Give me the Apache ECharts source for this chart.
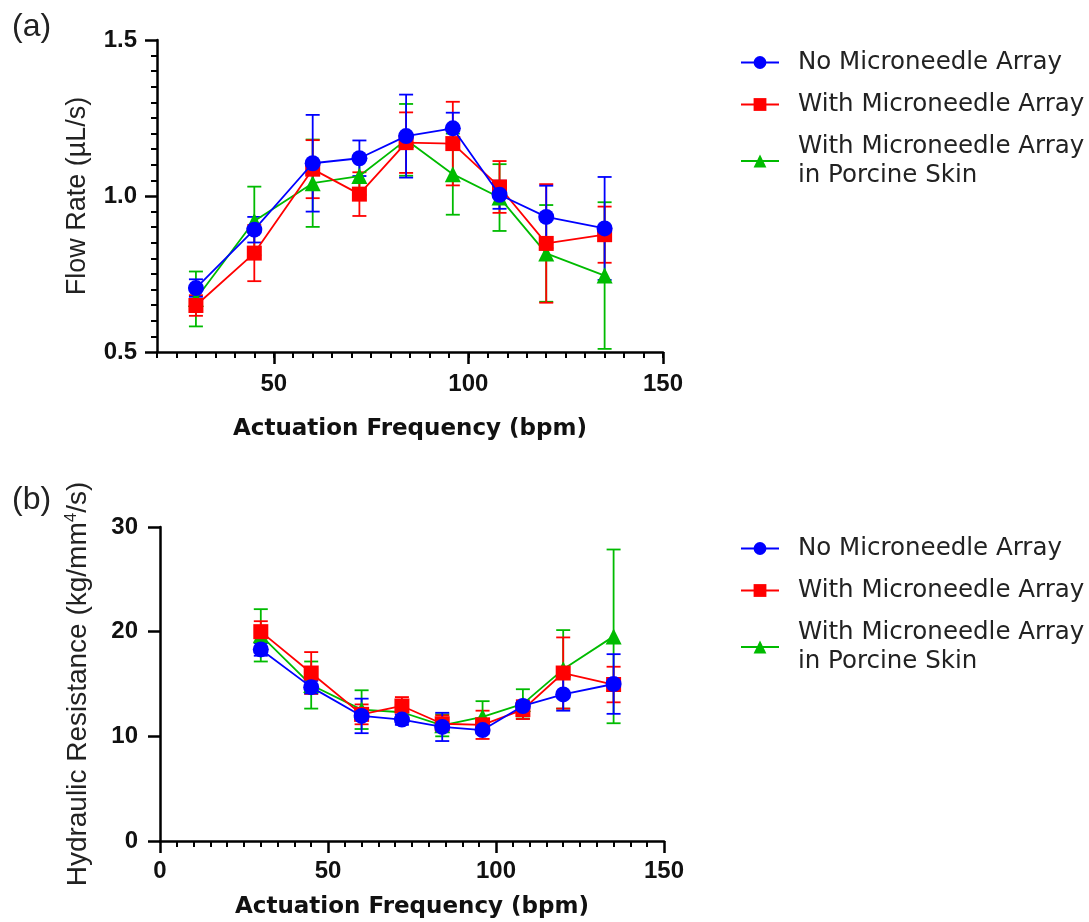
<!DOCTYPE html>
<html>
<head>
<meta charset="utf-8">
<script src="https://cdn.jsdelivr.net/npm/echarts@6/dist/echarts.min.js"></script>
<style>
html, body { margin: 0; background: #fff; }
#chart { width: 1089px; height: 922px; }
</style>
</head>
<body>
<div id="chart"></div>
<script>
// actuation frequencies (bpm)
var freqs = [30, 45, 60, 72, 84, 96, 108, 120, 135];
var names = ['No Microneedle Array', 'With Microneedle Array', 'With Microneedle Array\nin Porcine Skin'];
var colors = ['#0000FF', '#FF0000', '#00BB00'];
var symbols = ['circle', 'rect', 'triangle'];

// (a) flow rate, uL/s  (mean / sd)
var flowNone = [0.705, 0.892, 1.105, 1.121, 1.192, 1.217, 1.004, 0.933, 0.896];
var flowNoneSd = [0.028, 0.041, 0.155, 0.057, 0.133, 0.05, 0.045, 0.1, 0.165];
var flowMN = [0.649, 0.817, 1.086, 1.006, 1.171, 1.168, 1.029, 0.848, 0.876];
var flowMNSd = [0.033, 0.09, 0.093, 0.07, 0.097, 0.134, 0.083, 0.19, 0.09];
var flowSkin = [0.67, 0.92, 1.041, 1.064, 1.18, 1.07, 0.995, 0.816, 0.745];
var flowSkinSd = [0.088, 0.11, 0.14, 0.06, 0.115, 0.13, 0.107, 0.155, 0.235];

// (b) hydraulic resistance, kg/mm4/s
var resNone = [18.3, 14.7, 11.95, 11.6, 10.9, 10.6, 12.9, 14.0, 15.0];
var resNoneSd = [0.6, 0.6, 1.65, 0.5, 1.35, 0.35, 0.4, 1.55, 2.85];
var resMN = [20.0, 16.05, 12.1, 12.9, 11.2, 11.1, 12.55, 16.05, 14.95];
var resMNSd = [1.0, 2.0, 0.95, 0.85, 0.8, 1.35, 0.9, 3.4, 1.7];
var resSkin = [19.65, 14.9, 12.55, 12.3, 11.05, 11.86, 13.1, 16.4, 19.55];
var resSkinSd = [2.5, 2.25, 1.85, 0.7, 1.05, 1.5, 1.4, 3.75, 8.3];

var xMajorTop = [50, 100, 150];

var black = '#000';
var tickFont = { fontFamily: 'Arial, "Liberation Sans", sans-serif', fontWeight: 'bold', fontSize: 24, color: '#111' };
var xNameFont = { fontFamily: 'DejaVu Sans', fontWeight: 'bold', fontSize: 23, color: '#111' };

function pairs(ys) {
  return freqs.map(function (f, i) { return [f, ys[i]]; });
}

function lineSeries(k, ys, grid) {
  return {
    type: 'line',
    name: names[k],
    xAxisIndex: grid === 0 ? 0 : 2,
    yAxisIndex: grid,
    data: pairs(ys),
    symbol: symbols[k],
    symbolSize: k === 1 ? 15 : 16,
    lineStyle: { color: colors[k], width: 1.8 },
    itemStyle: { color: colors[k] },
    z: 10 - k,
    animation: false
  };
}

function errSeries(k, ys, sds, grid) {
  return {
    type: 'custom',
    name: names[k] + ' sd',
    xAxisIndex: grid === 0 ? 0 : 2,
    yAxisIndex: grid,
    data: freqs.map(function (f, i) { return [f, ys[i] - sds[i], ys[i] + sds[i]]; }),
    encode: { x: 0, y: [1, 2] },
    z: 5 - k,
    silent: true,
    animation: false,
    renderItem: function (params, api) {
      var lo = api.coord([api.value(0), api.value(1)]);
      var hi = api.coord([api.value(0), api.value(2)]);
      var w = 7;
      var st = { stroke: colors[k], lineWidth: 1.8, fill: null };
      return {
        type: 'group',
        children: [
          { type: 'line', shape: { x1: lo[0], y1: lo[1], x2: hi[0], y2: hi[1] }, style: st },
          { type: 'line', shape: { x1: hi[0] - w, y1: hi[1], x2: hi[0] + w, y2: hi[1] }, style: st },
          { type: 'line', shape: { x1: lo[0] - w, y1: lo[1], x2: lo[0] + w, y2: lo[1] }, style: st }
        ]
      };
    }
  };
}

function legendAt(top) {
  return {
    data: names,
    orient: 'vertical',
    left: 740,
    top: top,
    padding: 0,
    itemGap: 13,
    itemWidth: 38,
    itemHeight: 16,
    textStyle: {
      fontFamily: 'DejaVu Sans',
      fontSize: 24.5,
      lineHeight: 29,
      color: '#222',
      padding: [0, 0, 0, 14]
    }
  };
}

var chart = echarts.init(document.getElementById('chart'));

var option = {
  backgroundColor: '#fff',
  animation: false,
  title: [
    { text: '(a)', left: 12, top: 11, padding: 0, textStyle: { fontFamily: 'Liberation Sans', fontWeight: 'normal', fontSize: 32, color: '#222' } },
    { text: '(b)', left: 12, top: 484, padding: 0, textStyle: { fontFamily: 'Liberation Sans', fontWeight: 'normal', fontSize: 32, color: '#222' } }
  ],
  legend: [legendAt(48), legendAt(534)],
  grid: [
    { left: 157, right: 426, top: 40, height: 312 },
    { left: 160, right: 425, top: 527, height: 314 }
  ],
  xAxis: [
    {
      gridIndex: 0, type: 'value', position: 'bottom', min: 20, max: 150, interval: 5,
      axisLine: { onZero: false, lineStyle: { color: black, width: 2.5 } },
      axisTick: { length: 6, lineStyle: { color: black, width: 2 } },
      axisLabel: { show: false },
      splitLine: { show: false }
    },
    {
      gridIndex: 0, type: 'value', position: 'bottom', min: 20, max: 150,
      axisLine: { show: false, onZero: false },
      axisTick: { customValues: xMajorTop, length: 12, lineStyle: { color: black, width: 2.5 } },
      axisLabel: Object.assign({ customValues: xMajorTop, margin: 20 }, tickFont),
      splitLine: { show: false },
      name: 'Actuation Frequency (bpm)',
      nameLocation: 'middle',
      nameGap: 66,
      nameTextStyle: xNameFont
    },
    {
      gridIndex: 1, type: 'value', position: 'bottom', min: 0, max: 150, interval: 50,
      axisLine: { onZero: false, lineStyle: { color: black, width: 2.5 } },
      axisTick: { length: 12, lineStyle: { color: black, width: 2.5 } },
      minorTick: { show: true, splitNumber: 10, length: 6, lineStyle: { color: black, width: 2 } },
      axisLabel: Object.assign({ margin: 18 }, tickFont),
      splitLine: { show: false },
      name: 'Actuation Frequency (bpm)',
      nameLocation: 'middle',
      nameGap: 55,
      nameTextStyle: xNameFont
    }
  ],
  yAxis: [
    {
      gridIndex: 0, type: 'value', min: 0.5, max: 1.5, interval: 0.5,
      axisLine: { show: true, onZero: false, lineStyle: { color: black, width: 2.5 } },
      axisTick: { show: true, length: 12, lineStyle: { color: black, width: 2.5 } },
      minorTick: { show: true, splitNumber: 10, length: 6, lineStyle: { color: black, width: 2 } },
      axisLabel: Object.assign({ margin: 20, formatter: function (v) { return v.toFixed(1); } }, tickFont),
      splitLine: { show: false },
      name: 'Flow Rate (µL/s)',
      nameLocation: 'middle',
      nameGap: 66,
      nameTextStyle: { fontFamily: 'Liberation Sans', fontSize: 27, color: '#222' }
    },
    {
      gridIndex: 1, type: 'value', min: 0, max: 30, interval: 10,
      axisLine: { show: true, onZero: false, lineStyle: { color: black, width: 2.5 } },
      axisTick: { show: true, length: 12, lineStyle: { color: black, width: 2.5 } },
      axisLabel: Object.assign({ margin: 22 }, tickFont),
      splitLine: { show: false },
      name: '{t|Hydraulic Resistance (kg/mm}{s|4}{t|/s)}',
      nameLocation: 'middle',
      nameGap: 66,
      nameTextStyle: {
        rich: {
          t: { fontFamily: 'Liberation Sans', fontSize: 28, color: '#222', lineHeight: 32 },
          s: { fontFamily: 'Liberation Sans', fontSize: 17, color: '#222', lineHeight: 32, padding: [0, 0, 14, 0] }
        }
      }
    }
  ],
  series: [
    errSeries(2, flowSkin, flowSkinSd, 0),
    errSeries(1, flowMN, flowMNSd, 0),
    errSeries(0, flowNone, flowNoneSd, 0),
    lineSeries(0, flowNone, 0),
    lineSeries(1, flowMN, 0),
    lineSeries(2, flowSkin, 0),
    errSeries(2, resSkin, resSkinSd, 1),
    errSeries(1, resMN, resMNSd, 1),
    errSeries(0, resNone, resNoneSd, 1),
    lineSeries(0, resNone, 1),
    lineSeries(1, resMN, 1),
    lineSeries(2, resSkin, 1)
  ]
};

chart.setOption(option);
</script>
</body>
</html>
